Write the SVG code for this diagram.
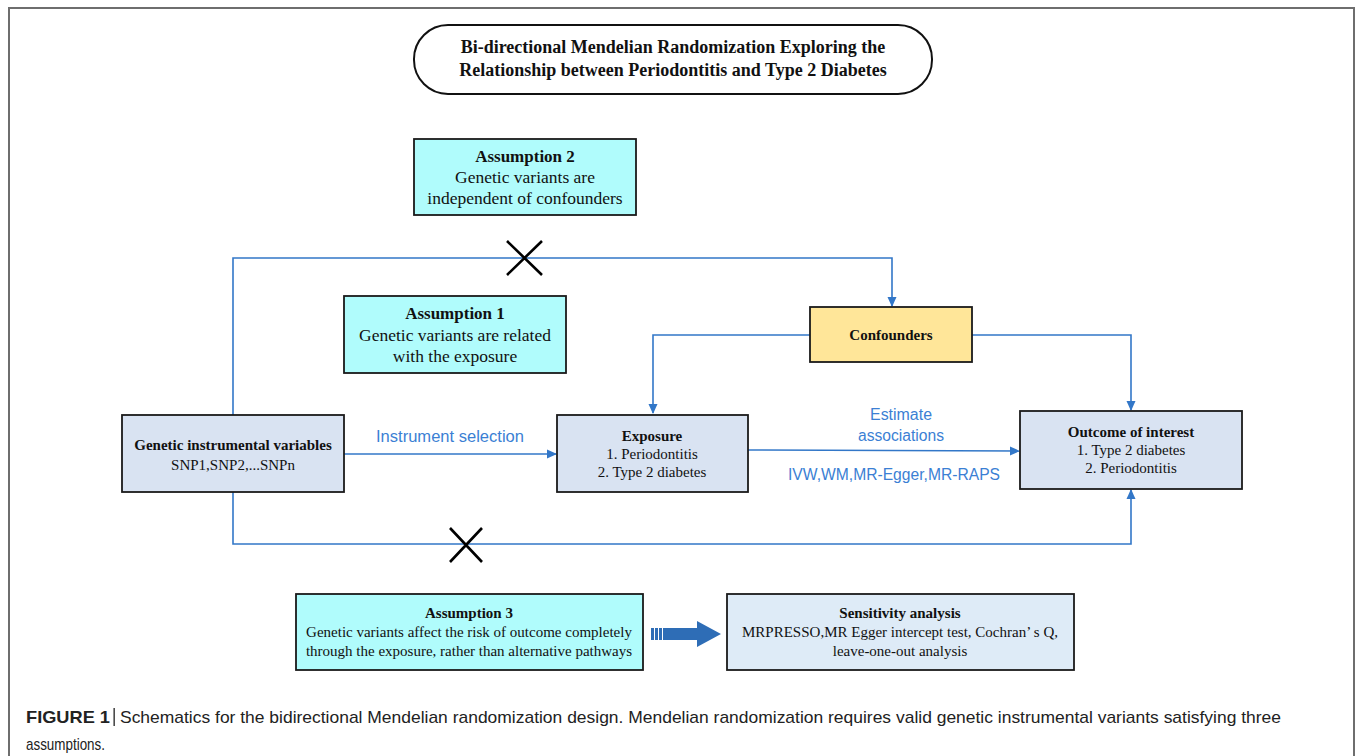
<svg xmlns="http://www.w3.org/2000/svg" width="1355" height="756" viewBox="0 0 1355 756">
<defs>
<style>
.box{stroke:#1a1a1a;stroke-width:1.8}
.cyan{fill:#b0fcfc}
.blue{fill:#d9e3f2}
.sens{fill:#deebf7}
.yel{fill:#ffe699}
.t{font-family:"Liberation Serif","Times New Roman",serif;fill:#111;text-anchor:middle}
.b{font-weight:bold}
.lbl{font-family:"Liberation Sans",Arial,sans-serif;fill:#3b7fd4;text-anchor:middle;font-size:16px}
.ln{fill:none;stroke:#3277c8;stroke-width:1.6}
.x{stroke:#000;stroke-width:2.6;fill:none}
.cap{font-family:"Liberation Sans",Arial,sans-serif;fill:#222;font-size:17px}
</style>
<marker id="ah" markerWidth="10" markerHeight="10" refX="9" refY="5" orient="auto" markerUnits="userSpaceOnUse">
<path d="M0,0.5 L10,5 L0,9.5 Z" fill="#3277c8"/>
</marker>
</defs>
<rect x="0" y="0" width="1355" height="756" fill="#fff"/>
<rect x="9" y="8" width="1345" height="760" fill="none" stroke="#6e6e6e" stroke-width="2"/>

<g id="title">
<rect x="414" y="25" width="518" height="69" rx="34" ry="34" fill="#fff" stroke="#111" stroke-width="2"/>
<text class="t b" x="673" y="53" font-size="18">Bi-directional Mendelian Randomization Exploring the</text>
<text class="t b" x="673" y="76" font-size="18">Relationship between Periodontitis and Type 2 Diabetes</text>
</g>

<g id="connectors">
<polyline class="ln" points="233,415 233,258 892,258 892,306" marker-end="url(#ah)"/>
<polyline class="ln" points="810,335 653,335 653,413" marker-end="url(#ah)"/>
<polyline class="ln" points="972,335 1131,335 1131,410" marker-end="url(#ah)"/>
<polyline class="ln" points="233,492 233,544 1131,544 1131,490" marker-end="url(#ah)"/>
<line class="ln" x1="344" y1="454" x2="556" y2="454" marker-end="url(#ah)"/>
<line class="ln" x1="748" y1="450" x2="1019" y2="451" marker-end="url(#ah)"/>
<path class="x" d="M507,241 L542,275 M542,241 L507,275"/>
<path class="x" d="M450,528 L482,562 M482,528 L450,562"/>
<text class="lbl" x="450" y="442" textLength="148" lengthAdjust="spacingAndGlyphs">Instrument selection</text>
<text class="lbl" x="901" y="420" textLength="62" lengthAdjust="spacingAndGlyphs">Estimate</text>
<text class="lbl" x="901" y="441" textLength="86" lengthAdjust="spacingAndGlyphs">associations</text>
<text class="lbl" x="894" y="480" textLength="212" lengthAdjust="spacingAndGlyphs">IVW,WM,MR-Egger,MR-RAPS</text>
<g id="block-arrow" fill="#2e6db6">
<rect x="651" y="628" width="3" height="12"/>
<rect x="655" y="628" width="3" height="12"/>
<rect x="659" y="628" width="3" height="12"/>
<path d="M663,628 L697,628 L697,621 L721,634 L697,647 L697,640 L663,640 Z"/>
</g>
</g>

<g id="assumption2">
<rect class="box cyan" x="414" y="139" width="222" height="76"/>
<text class="t b" x="525" y="162" font-size="17">Assumption 2</text>
<text class="t" x="525" y="183" font-size="17.5">Genetic variants are</text>
<text class="t" x="525" y="204" font-size="17.5">independent of confounders</text>
</g>

<g id="assumption1">
<rect class="box cyan" x="344" y="296" width="222" height="77"/>
<text class="t b" x="455" y="319" font-size="17">Assumption 1</text>
<text class="t" x="455" y="341" font-size="17.5">Genetic variants are related</text>
<text class="t" x="455" y="362" font-size="17.5">with the exposure</text>
</g>

<g id="confounders">
<rect class="box yel" x="810" y="307" width="162" height="55"/>
<text class="t b" x="891" y="340" font-size="15">Confounders</text>
</g>

<g id="genetic">
<rect class="box blue" x="122" y="415" width="222" height="77"/>
<text class="t b" x="233" y="450" font-size="15">Genetic instrumental variables</text>
<text class="t" x="233" y="470" font-size="15">SNP1,SNP2,...SNPn</text>
</g>

<g id="exposure">
<rect class="box blue" x="557" y="415" width="191" height="77"/>
<text class="t b" x="652" y="441" font-size="15">Exposure</text>
<text class="t" x="652" y="459" font-size="15">1. Periodontitis</text>
<text class="t" x="652" y="477" font-size="15">2. Type 2 diabetes</text>
</g>

<g id="outcome">
<rect class="box blue" x="1020" y="411" width="222" height="78"/>
<text class="t b" x="1131" y="437" font-size="15">Outcome of interest</text>
<text class="t" x="1131" y="455" font-size="15">1. Type 2 diabetes</text>
<text class="t" x="1131" y="473" font-size="15">2. Periodontitis</text>
</g>

<g id="assumption3">
<rect class="box cyan" x="296" y="594" width="347" height="76"/>
<text class="t b" x="469" y="618" font-size="15">Assumption 3</text>
<text class="t" x="469" y="637" font-size="15">Genetic variants affect the risk of outcome completely</text>
<text class="t" x="469" y="656" font-size="15">through the exposure, rather than alternative pathways</text>
</g>

<g id="sensitivity">
<rect class="box sens" x="727" y="594" width="347" height="76"/>
<text class="t b" x="900" y="618" font-size="15">Sensitivity analysis</text>
<text class="t" x="900" y="637" font-size="15">MRPRESSO,MR Egger intercept test, Cochran’ s Q,</text>
<text class="t" x="900" y="656" font-size="15">leave-one-out analysis</text>
</g>

<g id="caption">
<text class="cap" x="26" y="723" font-weight="bold" textLength="84" lengthAdjust="spacingAndGlyphs">FIGURE 1</text>
<rect x="113.5" y="708" width="1.3" height="18" fill="#222"/>
<text class="cap" x="120" y="723" textLength="1161" lengthAdjust="spacingAndGlyphs">Schematics for the bidirectional Mendelian randomization design. Mendelian randomization requires valid genetic instrumental variants satisfying three</text>
<text class="cap" x="26" y="750" textLength="79" lengthAdjust="spacingAndGlyphs">assumptions.</text>
</g>
</svg>
